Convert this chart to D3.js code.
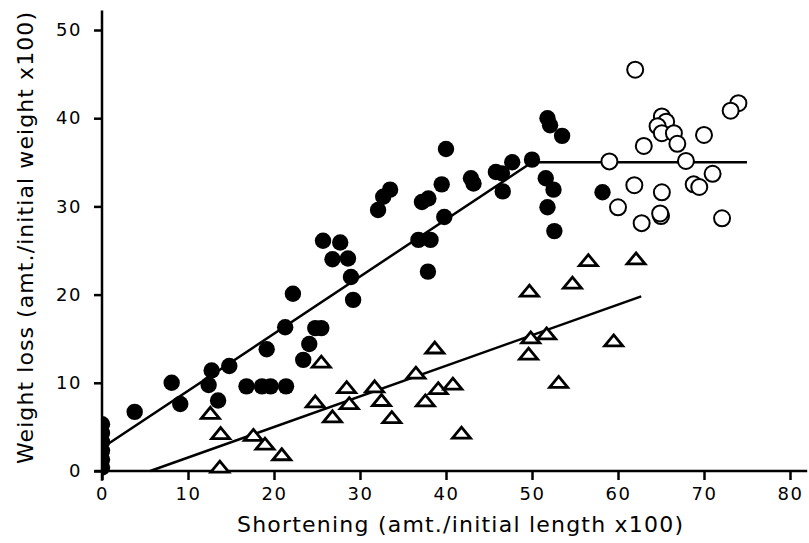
<!DOCTYPE html>
<html>
  <head>
    <meta charset="utf-8">
    <script src="https://cdn.jsdelivr.net/npm/d3@7"></script>
    <style>
      body { margin: 0; background: #fff; }
      svg { display: block; }
      .tick text { font-family: "DejaVu Sans", sans-serif; font-size: 18px; letter-spacing: 1.5px; fill: #000; }
      .tick line { stroke: #000; stroke-width: 2.5px; }
      .title { font-family: "DejaVu Sans", sans-serif; font-size: 22px; fill: #000; }
    </style>
  </head>
<body>
  <script type="text/javascript">
    // tick values
    var xTicks = [0, 10, 20, 30, 40, 50, 60, 70, 80];
    var yTicks = [0, 10, 20, 30, 40, 50];

    // filled circles: [shortening, weight loss]
    var filledPts = [
      [0, 0.4], [0, 1.3], [0, 2.3], [0, 3.3], [0, 4.3], [0, 5.3],
      [3.8, 6.7], [8.1, 10.0], [9.1, 7.6], [12.4, 9.75], [12.75, 11.4], [13.5, 8.0],
      [14.8, 11.9], [16.8, 9.6], [18.6, 9.6], [19.6, 9.6], [19.15, 13.8], [21.4, 9.6],
      [21.3, 16.3], [22.2, 20.1], [23.4, 12.6], [24.1, 14.4], [24.8, 16.2], [25.5, 16.2],
      [25.7, 26.1], [27.7, 25.9], [26.8, 24.0], [28.6, 24.1], [28.95, 22.0], [29.2, 19.4],
      [32.1, 29.6], [32.7, 31.1], [33.5, 31.9], [36.8, 26.2], [38.2, 26.2], [37.9, 22.6],
      [37.2, 30.5], [37.95, 30.9], [39.5, 32.5], [39.8, 28.8], [40.0, 36.5],
      [42.9, 33.2], [43.2, 32.6], [45.8, 33.9], [46.5, 33.75], [47.7, 35.0], [46.6, 31.7],
      [50.0, 35.3], [51.8, 40.0], [52.1, 39.2], [53.5, 38.0], [51.6, 33.2], [52.5, 31.9],
      [51.8, 29.9], [52.6, 27.2], [58.2, 31.6]
    ];

    // open circles
    var openPts = [
      [62.0, 45.5], [74.0, 41.7], [73.1, 40.85], [65.1, 40.2], [65.6, 39.6], [64.6, 39.1],
      [65.1, 38.3], [66.5, 38.3], [66.9, 37.1], [70.0, 38.1], [63.0, 36.85], [59.0, 35.1],
      [67.9, 35.15], [71.0, 33.7], [68.8, 32.5], [69.45, 32.2], [61.9, 32.4], [65.1, 31.6],
      [60.0, 29.9], [65.0, 28.9], [64.9, 29.2], [62.75, 28.1], [72.1, 28.65]
    ];

    // open triangles
    var triPts = [
      [12.6, 6.6], [13.8, 4.3], [13.7, 0.5], [17.6, 4.1], [18.95, 3.1], [20.9, 1.9],
      [25.5, 12.4], [24.8, 7.9], [26.8, 6.2], [28.45, 9.5], [28.75, 7.7], [31.7, 9.6],
      [32.5, 8.05], [33.7, 6.1], [36.5, 11.15], [38.7, 14.0], [37.6, 8.0], [39.1, 9.4],
      [40.8, 9.9], [41.8, 4.35], [49.7, 20.45], [49.6, 13.3], [49.85, 15.15], [51.7, 15.6],
      [53.1, 10.1], [54.7, 21.35], [56.55, 23.9], [62.1, 24.1], [59.5, 14.8]
    ];

    // fitted lines
    var fitCircles = [[0.6, 3.0], [50, 35.0], [75, 35.0]];
    var fitTriangles = [[5.6, 0], [62.7, 19.8]];

    var W = 809, H = 543;
    var svg = d3.select("body").append("svg").attr("width", W).attr("height", H);

    var x = d3.scaleLinear().domain([0, 80]).range([102, 790]);
    var y = d3.scaleLinear().domain([0, 50]).range([471, 30]);

    // axes
    var yAxis = d3.axisLeft(y).tickValues(yTicks).tickSizeInner(8).tickSizeOuter(0).tickPadding(12);
    var xAxis = d3.axisBottom(x).tickValues(xTicks).tickSizeInner(9).tickSizeOuter(0).tickPadding(7);

    svg.append("g").attr("transform", "translate(102,0)").call(yAxis)
      .call(function(g) { g.select(".domain").remove(); });
    svg.append("g").attr("transform", "translate(0,471)").call(xAxis)
      .call(function(g) { g.select(".domain").remove(); });

    svg.append("line")
      .attr("x1", x(0)).attr("x2", x(0))
      .attr("y1", y(-1.1)).attr("y2", y(52.2))
      .attr("stroke", "#000").attr("stroke-width", 2.5);
    svg.append("line")
      .attr("x1", x(-0.9)).attr("x2", x(82))
      .attr("y1", y(0)).attr("y2", y(0))
      .attr("stroke", "#000").attr("stroke-width", 2.5);

    // titles
    svg.append("text").attr("class", "title")
      .attr("x", 237).attr("y", 532)
      .attr("textLength", 446).attr("lengthAdjust", "spacing")
      .text("Shortening (amt./initial length x100)");
    svg.append("text").attr("class", "title")
      .attr("transform", "translate(33,464) rotate(-90)")
      .attr("textLength", 452).attr("lengthAdjust", "spacing")
      .text("Weight loss (amt./initial weight x100)");

    // fit lines
    var line = d3.line().x(function(d) { return x(d[0]); }).y(function(d) { return y(d[1]); });
    svg.append("path").datum(fitCircles).attr("d", line)
      .attr("fill", "none").attr("stroke", "#000").attr("stroke-width", 2.5);
    svg.append("path").datum(fitTriangles).attr("d", line)
      .attr("fill", "none").attr("stroke", "#000").attr("stroke-width", 2.5);

    // clip so circles sitting on the axis show only their right half
    svg.append("clipPath").attr("id", "plotclip")
      .append("rect").attr("x", x(0)).attr("y", 0).attr("width", W).attr("height", H);

    svg.append("g").attr("clip-path", "url(#plotclip)")
      .selectAll("circle").data(filledPts).enter().append("circle")
      .attr("cx", function(d) { return x(d[0]); })
      .attr("cy", function(d) { return y(d[1]); })
      .attr("r", 8.2)
      .attr("fill", "#000");

    svg.append("g").selectAll("circle").data(openPts).enter().append("circle")
      .attr("cx", function(d) { return x(d[0]); })
      .attr("cy", function(d) { return y(d[1]); })
      .attr("r", 8)
      .attr("fill", "#fff").attr("stroke", "#000").attr("stroke-width", 2);

    // triangles: 18 wide, 11 tall, centred on the point
    var tri = "M0,-5.5L9,5.5L-9,5.5Z";
    svg.append("g").selectAll("path").data(triPts).enter().append("path")
      .attr("d", tri)
      .attr("transform", function(d) { return "translate(" + x(d[0]) + "," + y(d[1]) + ")"; })
      .attr("fill", "#fff").attr("stroke", "#000").attr("stroke-width", 2.8)
      .attr("stroke-linejoin", "miter");
  </script>
</body>
</html>
